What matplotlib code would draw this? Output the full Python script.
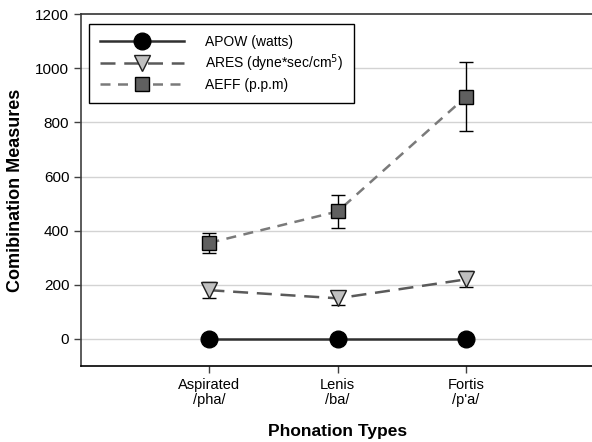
import numpy as np
import matplotlib.pyplot as plt

plt.rcParams['font.family'] = ['Liberation Sans', 'DejaVu Sans']

categories = ['Aspirated\n/pha/', 'Lenis\n/ba/', 'Fortis\n/p\'a/']
apow = [0, 0, 0]
ares = [180, 150, 220]
ares_err = [30, 25, 30]
aeff = [355, 471, 895]
aeff_err = [36, 61, 128]

x = np.arange(1, len(categories) + 1)

fig = plt.figure(figsize=(5.92, 4.42), dpi=100)
ax = fig.add_axes([0.137, 0.172, 0.867, 0.796])

for y in range(0, 1200, 200):
    ax.axhline(y, color='#d3d3d3', lw=1, zorder=0)

ax.plot(x, apow, '-', color='#303030', lw=1.8, marker='o', ms=12,
        mfc='black', mec='black', label='APOW (watts)', zorder=3)

ax.errorbar(x, ares, yerr=ares_err, fmt='none', ecolor='black', elinewidth=1,
            capsize=5, capthick=1, zorder=2)
ax.plot(x, ares, color='#5a5a5a', lw=1.8, dashes=(6, 3.5), marker='v', ms=11,
        mfc='#c0c0c0', mec='#202020', mew=1, label='ARES (dyne*sec/cm$^5$)', zorder=3)

ax.errorbar(x, aeff, yerr=aeff_err, fmt='none', ecolor='black', elinewidth=1,
            capsize=5, capthick=1, zorder=2)
ax.plot(x, aeff, color='#7a7a7a', lw=1.8, dashes=(4, 3), marker='s', ms=10,
        mfc='#606060', mec='black', mew=1, label='AEFF (p.p.m)', zorder=3)

ax.set_xlim(0, 4)
ax.set_ylim(-100, 1200)
ax.set_xticks(x)
ax.set_xticklabels(categories, fontsize=10.5, linespacing=1.1)
ax.set_yticks(range(0, 1201, 200))
ax.tick_params(axis='y', labelsize=11, length=5, width=1, color='#404040')
ax.tick_params(axis='x', length=5, width=1, color='#404040')
for s in ['left', 'bottom', 'top']:
    ax.spines[s].set_linewidth(1.2)
ax.spines['top'].set_color('#333333')
ax.spines['left'].set_color('#404040')
ax.spines['right'].set_visible(False)

ax.set_xlabel('Phonation Types', fontsize=12.5, fontweight='bold', labelpad=12)
ax.set_ylabel('Comibination Measures', fontsize=13, fontweight='bold', labelpad=8)

leg = ax.legend(loc='upper left', bbox_to_anchor=(0.016, 0.972), borderaxespad=0,
                fontsize=10, handlelength=6, fancybox=False, edgecolor='black',
                framealpha=1, borderpad=0.8, labelspacing=0.25, handletextpad=1.5)
leg.get_frame().set_linewidth(1)

fig.savefig('out.png', dpi=100)
